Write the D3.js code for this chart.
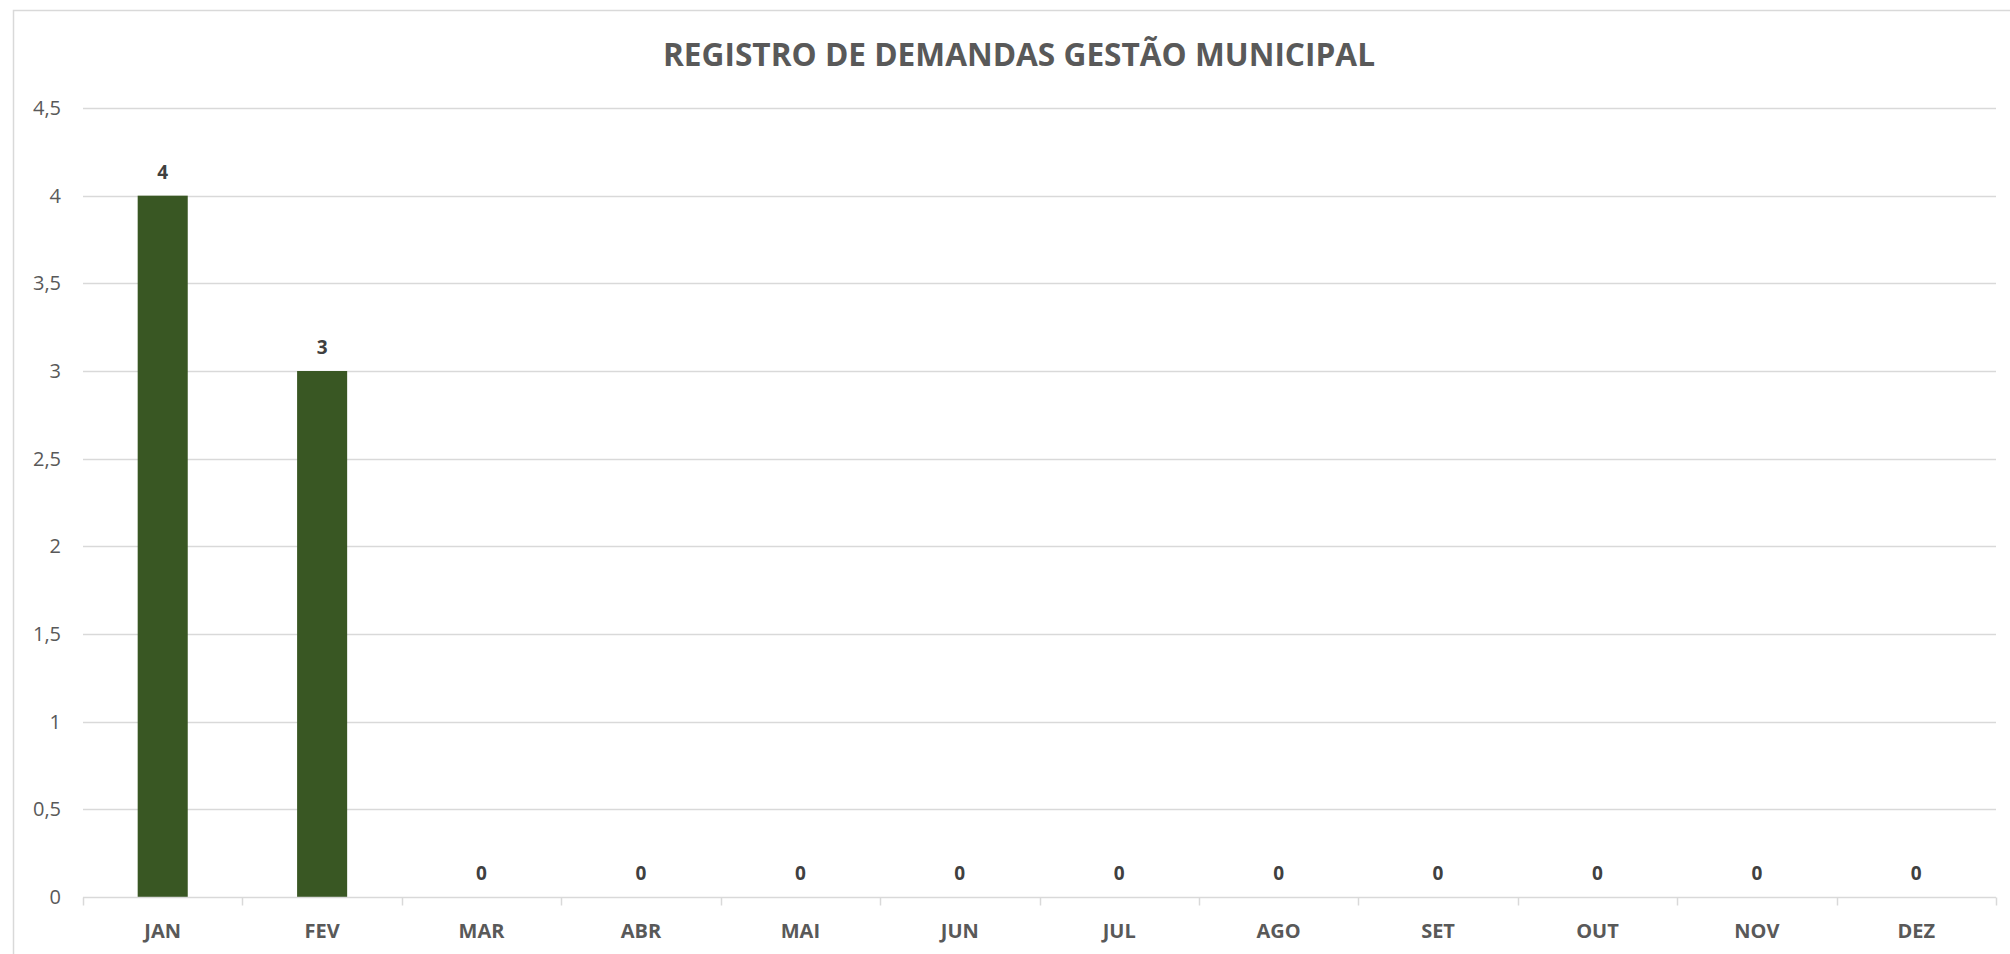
<!DOCTYPE html>
<html>
<head>
<meta charset="utf-8">
<script src="https://cdn.jsdelivr.net/npm/d3@7"></script>
<style>
  body { margin: 0; background: #fff; }
  svg { display: block; }
</style>
</head>
<body>
<div id="chart"></div>
<script>
// chart data
var months = ["JAN", "FEV", "MAR", "ABR", "MAI", "JUN", "JUL", "AGO", "SET", "OUT", "NOV", "DEZ"];
var demandas = [4, 3, 0, 0, 0, 0, 0, 0, 0, 0, 0, 0];
var yTicks = [0, 0.5, 1, 1.5, 2, 2.5, 3, 3.5, 4, 4.5];
var title = "REGISTRO DE DEMANDAS GESTÃO MUNICIPAL";

var width = 2010,
    height = 954;

var margin = { left: 83, right: 14, top: 108, bottom: 57 };

var font = "'Open Sans', 'Noto Sans', sans-serif";

var svg = d3.select("#chart")
    .append("svg")
    .attr("width", width)
    .attr("height", height);

// outer chart border
svg.append("rect")
    .attr("x", 13.5)
    .attr("y", 10.5)
    .attr("width", width)
    .attr("height", height)
    .attr("fill", "#fff")
    .attr("stroke", "#d9d9d9")
    .attr("stroke-width", 1.5);

var x = d3.scaleBand()
    .domain(months)
    .range([margin.left, width - margin.right])
    .paddingInner(0.686)
    .paddingOuter(0.343);

var y = d3.scaleLinear()
    .domain([0, 4.5])
    .range([height - margin.bottom, margin.top]);

// gridlines
svg.append("g")
    .attr("class", "grid")
    .selectAll("line")
    .data(yTicks.filter(function (d) { return d > 0; }))
    .enter().append("line")
      .attr("x1", margin.left)
      .attr("x2", width - margin.right)
      .attr("y1", function (d) { return Math.round(y(d)) + 0.5; })
      .attr("y2", function (d) { return Math.round(y(d)) + 0.5; })
      .attr("stroke", "#d9d9d9")
      .attr("stroke-width", 1.5);

// y axis labels
var yAxis = svg.append("g")
    .attr("transform", "translate(" + (margin.left - 22) + ",0)")
    .call(d3.axisLeft(y)
        .tickValues(yTicks)
        .tickSize(0)
        .tickFormat(function (d) { return String(d).replace(".", ","); }));
yAxis.select(".domain").remove();
yAxis.selectAll("text")
    .attr("x", 0)
    .style("font-family", font)
    .style("font-size", "20px")
    .attr("fill", "#595959");

// bars
svg.append("g")
    .selectAll("rect")
    .data(demandas)
    .enter().append("rect")
      .attr("x", function (d, i) { return x(months[i]); })
      .attr("y", function (d) { return y(d); })
      .attr("width", x.bandwidth())
      .attr("height", function (d) { return y(0) - y(d); })
      .attr("fill", "#395723");

// x axis
var xAxis = svg.append("g")
    .attr("transform", "translate(0," + (Math.round(y(0)) + 0.5) + ")");
xAxis.append("line")
    .attr("x1", margin.left)
    .attr("x2", width - margin.right)
    .attr("stroke", "#d9d9d9")
    .attr("stroke-width", 1.5);
var bounds = months.map(function (m) { return x(m) - x.step() * x.paddingOuter(); });
bounds.push(width - margin.right);
xAxis.selectAll(".tk")
    .data(bounds)
    .enter().append("line")
      .attr("class", "tk")
      .attr("x1", function (d) { return Math.round(d) + 0.5; })
      .attr("x2", function (d) { return Math.round(d) + 0.5; })
      .attr("y1", 0)
      .attr("y2", 8)
      .attr("stroke", "#d9d9d9")
      .attr("stroke-width", 1.5);
xAxis.selectAll(".lbl")
    .data(months)
    .enter().append("text")
      .attr("class", "lbl")
      .attr("x", function (d) { return x(d) + x.bandwidth() / 2; })
      .attr("y", 40)
      .attr("text-anchor", "middle")
      .style("font-family", font)
      .style("font-size", "20px")
      .style("font-weight", "bold")
      .attr("fill", "#595959")
      .text(function (d) { return d; });

// data labels
svg.append("g")
    .selectAll("text")
    .data(demandas)
    .enter().append("text")
      .attr("x", function (d, i) { return x(months[i]) + x.bandwidth() / 2; })
      .attr("y", function (d) { return y(d) - 17; })
      .attr("text-anchor", "middle")
      .style("font-family", font)
      .style("font-size", "19px")
      .style("font-weight", "bold")
      .attr("fill", "#404040")
      .text(function (d) { return d; });

// title
svg.append("text")
    .attr("x", 1019)
    .attr("y", 66)
    .attr("text-anchor", "middle")
    .attr("textLength", 712)
    .attr("lengthAdjust", "spacingAndGlyphs")
    .style("font-family", font)
    .style("font-size", "33px")
    .style("font-weight", "bold")
    .attr("fill", "#595959")
    .text(title);
</script>
</body>
</html>
